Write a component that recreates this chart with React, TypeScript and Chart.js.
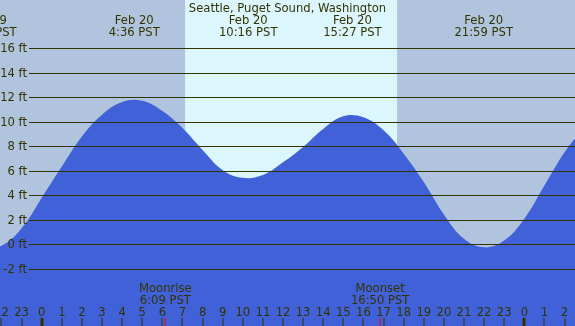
import React, { useEffect, useRef } from "react";
import { Chart, registerables } from "chart.js";

Chart.register(...registerables);

const TITLE = "Seattle, Puget Sound, Washington";

// Tide curve: hours since midnight Feb 20 (PST), height in ft
const tideHours = [-3, -2, -1, 0, 1, 2, 3, 4, 5, 6, 7, 8, 9, 10, 11, 12, 13, 14, 15, 16, 17, 18, 19, 20, 21, 22, 23, 24, 25, 26, 27];
const tideFeet = [-0.24, -0.12, 1.3, 3.8, 6.35, 8.8, 10.58, 11.62, 11.72, 10.88, 9.5, 7.7, 6.05, 5.43, 5.65, 6.69, 7.95, 9.42, 10.45, 10.36, 9.3, 7.4, 5.08, 2.43, 0.45, -0.25, 0.3, 2.08, 4.8, 7.52, 9.6];

// High / low tide annotations
const extremeHours = [-2.7, 4.6, 10.27, 15.45, 21.98];
const extremeDates = ["Feb 19", "Feb 20", "Feb 20", "Feb 20", "Feb 20"];
const extremeTimes = ["21:18 PST", "4:36 PST", "10:16 PST", "15:27 PST", "21:59 PST"];

// Y axis ticks (ft)
const yTicks = [-2, 0, 2, 4, 6, 8, 10, 12, 14, 16];

// Hour ticks
const hourTicks = [-2, -1, 0, 1, 2, 3, 4, 5, 6, 7, 8, 9, 10, 11, 12, 13, 14, 15, 16, 17, 18, 19, 20, 21, 22, 23, 24, 25, 26];

// Daylight
const sunriseHour = 7.13;
const sunsetHour = 17.67;

// Moon events
const moonNames = ["Moonrise", "Moonset"];
const moonHours = [6.15, 16.83];
const moonTimes = ["6:09 PST", "16:50 PST"];

const X_MIN = -2.074;
const X_MAX = 26.52;
const Y_MIN = -6.67;
const Y_MAX = 19.94;

const NIGHT = "#b0c4de";
const DAY = "#dcf6fe";
const WATER = "#4161d8";
const INK = "#333300";
const FONT = "11.6px 'DejaVu Sans'";

const tidePlugin = {
  id: "tideDecor",
  beforeDatasetsDraw(chart: any) {
    const { ctx, scales } = chart;
    const x = scales.x;
    ctx.save();
    ctx.fillStyle = NIGHT;
    ctx.fillRect(0, 0, chart.width, chart.height);
    const x1 = x.getPixelForValue(sunriseHour);
    const x2 = x.getPixelForValue(sunsetHour);
    ctx.fillStyle = DAY;
    ctx.fillRect(x1, 0, x2 - x1, chart.height);
    ctx.restore();
  },
  afterDatasetsDraw(chart: any) {
    const { ctx, scales } = chart;
    const x = scales.x;
    const y = scales.y;
    const W = chart.width;
    ctx.save();
    ctx.font = FONT;
    ctx.fillStyle = INK;
    ctx.strokeStyle = INK;
    ctx.lineWidth = 1;
    yTicks.forEach((v) => {
      const py = Math.round(y.getPixelForValue(v)) + 0.5;
      ctx.beginPath();
      ctx.moveTo(29, py);
      ctx.lineTo(W, py);
      ctx.stroke();
      ctx.textAlign = "right";
      ctx.textBaseline = "alphabetic";
      ctx.fillText(`${v} ft`, 27, py + 3.5);
    });
    ctx.textAlign = "center";
    ctx.textBaseline = "alphabetic";
    ctx.fillText(TITLE, W / 2, 11.5);
    extremeHours.forEach((h, i) => {
      const px = x.getPixelForValue(h);
      ctx.fillText(extremeDates[i], px, 23.5);
      ctx.fillText(extremeTimes[i], px, 35.8);
    });
    moonHours.forEach((h, i) => {
      const px = x.getPixelForValue(h);
      ctx.fillText(moonNames[i], px, 291.7);
      ctx.fillText(moonTimes[i], px, 303.5);
    });
    hourTicks.forEach((h) => {
      const px = x.getPixelForValue(h);
      const label = String(((h % 24) + 24) % 24);
      ctx.fillText(label, px, 316);
      if (h % 24 === 0) {
        ctx.fillRect(Math.round(px) - 1.5, 318, 3, 8);
      } else {
        ctx.fillRect(Math.round(px) - 0.5, 318, 1, 8);
      }
    });
    ctx.fillStyle = "#ff0000";
    moonHours.forEach((h) => {
      const px = x.getPixelForValue(h);
      ctx.fillRect(Math.round(px) - 0.5, 318, 1, 8);
    });
    ctx.restore();
  },
};

export default function App() {
  const ref = useRef<HTMLCanvasElement | null>(null);
  useEffect(() => {
    document.body.style.margin = "0";
    const canvas = ref.current;
    if (!canvas) return;
    const chart = new Chart(canvas, {
      type: "line",
      data: {
        datasets: [
          {
            data: tideHours.map((h, i) => ({ x: h, y: tideFeet[i] })),
            borderWidth: 0,
            borderColor: WATER,
            backgroundColor: WATER,
            fill: "start",
            pointRadius: 0,
            tension: 0.4,
          },
        ],
      },
      options: {
        responsive: false,
        maintainAspectRatio: false,
        animation: false,
        devicePixelRatio: 1,
        events: [],
        layout: { padding: 0 },
        plugins: { legend: { display: false }, tooltip: { enabled: false }, title: { display: false } },
        scales: {
          x: { type: "linear", min: X_MIN, max: X_MAX, display: false },
          y: { type: "linear", min: Y_MIN, max: Y_MAX, display: false },
        },
      },
      plugins: [tidePlugin],
    } as any);
    return () => chart.destroy();
  }, []);
  return <canvas ref={ref} width={575} height={326} style={{ display: "block" }} />;
}
